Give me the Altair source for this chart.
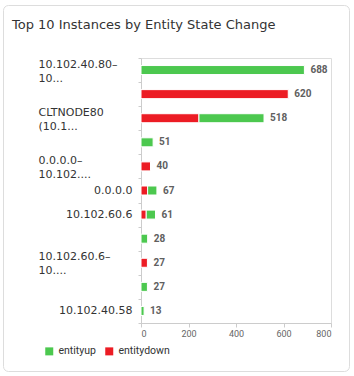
import json
import altair as alt
import pandas as pd

# ---- data ----
labels = ["10.102.40.80–|10...", "", "CLTNODE80|(10.1...", "", "0.0.0.0–|10.102....",
          "0.0.0.0", "10.102.60.6", "", "10.102.60.6–|10....", "", "10.102.40.58"]
entity_up = [688, 0, 274, 51, 0, 39, 39, 28, 0, 27, 13]
entity_down = [0, 620, 244, 0, 40, 28, 22, 0, 27, 0, 0]
series_names = ["entityup", "entitydown"]
series_colors = ["#4cc84f", "#ec1c24"]
x_ticks = [0, 200, 400, 600, 800]
title_text = "Top 10 Instances by Entity State Change"

rows = []
for i, (u, d) in enumerate(zip(entity_up, entity_down)):
    if d:
        rows.append({"rank": i, "series": "entitydown", "value": d, "ord": 0})
    if u:
        rows.append({"rank": i, "series": "entityup", "value": u, "ord": 1})
bars_df = pd.DataFrame(rows)
tot_df = pd.DataFrame({"rank": list(range(len(labels))),
                       "total": [u + d for u, d in zip(entity_up, entity_down)]})

label_arr = [l.split("|") if "|" in l else l for l in labels]
label_expr = json.dumps(label_arr, ensure_ascii=False) + "[datum.value]"
multi_idx = [i for i, l in enumerate(labels) if "|" in l]
multi_test = "indexof(" + json.dumps(multi_idx) + ", datum.value) >= 0"

FONT = "DejaVu Sans"

y_enc = alt.Y(
    "rank:O",
    scale=alt.Scale(paddingInner=0, paddingOuter=0),
    axis=alt.Axis(
        title=None,
        labelExpr=label_expr,
        labelFont=FONT,
        labelFontSize=11,
        labelColor="#333333",
        labelLineHeight=14,
        labelAlign={"condition": {"test": multi_test, "value": "left"}, "value": "right"},
        labelPadding={"condition": {"test": multi_test, "value": 100}, "value": 6},
        labelOffset={"condition": {"test": multi_test, "value": -6}, "value": 0},
        labelLimit=200,
        labelOverlap=False,
        tickBand="extent",
        tickSize=3,
        tickColor="#cccccc",
        domainColor="#cccccc",
    ),
)

bars = alt.Chart(bars_df).mark_bar(size=9, stroke="white", strokeWidth=1).encode(
    x=alt.X("value:Q", stack="zero",
            scale=alt.Scale(domain=[0, 800], nice=False),
            axis=alt.Axis(title=None, values=x_ticks, grid=False,
                          labelFont="Roboto", labelFontSize=9, labelColor="#666666",
                          tickSize=4, tickColor="#cccccc", domainColor="#cccccc",
                          labelPadding=2)),
    y=y_enc,
    color=alt.Color("series:N",
                    scale=alt.Scale(domain=series_names, range=series_colors),
                    legend=alt.Legend(title=None, orient="none", direction="horizontal",
                                      legendX=-97, legendY=288,
                                      symbolType="square", symbolSize=64,
                                      symbolStrokeWidth=0,
                                      labelFont="Roboto", labelFontSize=10.5,
                                      labelColor="#333333", columnPadding=8,
                                      labelOffset=4)),
    order=alt.Order("ord:Q"),
)

texts = alt.Chart(tot_df).mark_text(align="left", baseline="middle", dx=6,
                                    font="Roboto", fontSize=10, fontWeight="bold",
                                    color="#606060").encode(
    x=alt.X("total:Q"),
    y=alt.Y("rank:O"),
    text="total:Q",
)

card = alt.Chart(pd.DataFrame({"a": [0]})).mark_rect(
    fill="transparent", stroke="#dddddd", strokeWidth=1, cornerRadius=5
).encode(x=alt.value(-137.5), x2=alt.value(208.5), y=alt.value(-52.5), y2=alt.value(313.5))

chart = alt.layer(card, bars, texts).properties(
    width=190, height=265,
    title=alt.TitleParams(title_text, anchor="start", frame="group", dx=-129,
                          font=FONT, fontSize=13, fontWeight="normal",
                          color="#333333", baseline="alphabetic", offset=-37),
    autosize=alt.AutoSizeParams(type="none"),
    padding={"left": 141, "top": 58, "right": 23, "bottom": 53},
).configure_view(stroke="#e6e6e6").configure(background="white")

chart.save("out.html", embed_options={"renderer": "svg", "actions": False})
